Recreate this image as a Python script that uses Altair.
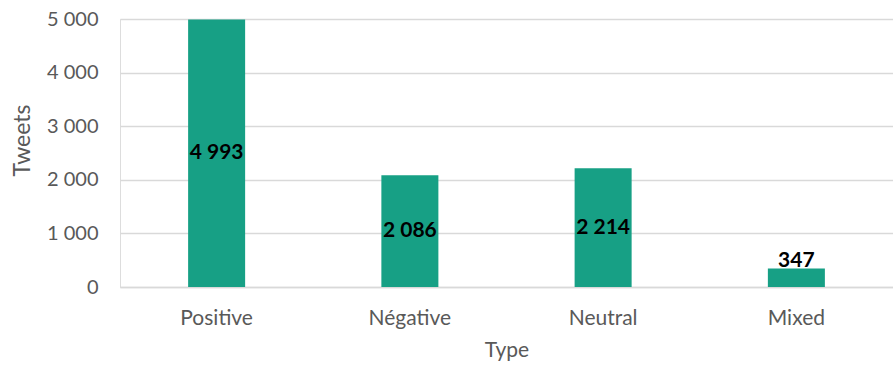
import altair as alt
import pandas as pd

categories = ["Positive", "Négative", "Neutral", "Mixed"]
tweets = [4993, 2086, 2214, 347]
y_ticks = [0, 1000, 2000, 3000, 4000, 5000]

df = pd.DataFrame({"Type": categories, "Tweets": tweets})

FONT = "Lato"
BAR = "#17A085"
GRID = "#D9D9D9"
TXT = "#595959"

x_enc = alt.X(
    "Type:N",
    sort=categories,
    title="Type",
    scale=alt.Scale(paddingInner=0.705, paddingOuter=0.3525),
    axis=alt.Axis(
        labelAngle=0, ticks=False, domainColor=GRID, domainWidth=1.5,
        labelColor=TXT, labelFont=FONT, labelFontSize=21, labelPadding=20,
        titleColor=TXT, titleFont=FONT, titleFontSize=21, titleFontWeight="normal",
        titlePadding=11,
    ),
)

bars = alt.Chart(df).mark_bar(color=BAR).encode(
    x=x_enc,
    y=alt.Y(
        "Tweets:Q",
        title="Tweets",
        scale=alt.Scale(domain=[0, 5000], nice=False),
        axis=alt.Axis(
            values=y_ticks, ticks=False, domain=False, gridColor=GRID, gridWidth=1.5,
            labelColor=TXT, labelFont=FONT, labelFontSize=20, labelPadding=22,
            labelExpr="replace(format(datum.value, ','), ',', ' ')",
            titleColor=TXT, titleFont=FONT, titleFontSize=23, titleFontWeight="normal",
            titlePadding=12, titleY=121,
        ),
    ),
)

label_expr = "replace(format(datum.Tweets, ','), ',', ' ')"

mid_labels = alt.Chart(df).transform_filter("datum.Tweets >= 1000").transform_calculate(
    mid="datum.Tweets / 2", lab=label_expr
).mark_text(font=FONT, fontSize=21, fontWeight="bold", color="black", baseline="middle").encode(
    x=alt.X("Type:N", sort=categories),
    y="mid:Q",
    text="lab:N",
)

top_labels = alt.Chart(df).transform_filter("datum.Tweets < 1000").transform_calculate(
    lab=label_expr
).mark_text(font=FONT, fontSize=21, fontWeight="bold", color="black", baseline="alphabetic", dy=-1).encode(
    x=alt.X("Type:N", sort=categories),
    y="Tweets:Q",
    text="lab:N",
)

chart = alt.layer(bars, mid_labels, top_labels).properties(
    width=773,
    height=268,
    autosize=alt.AutoSizeParams(type="none"),
    padding={"left": 120, "top": 19, "right": 0, "bottom": 84},
).configure_view(stroke=None).configure(background="white")

chart.save("out.html", embed_options={"renderer": "svg", "actions": False})
